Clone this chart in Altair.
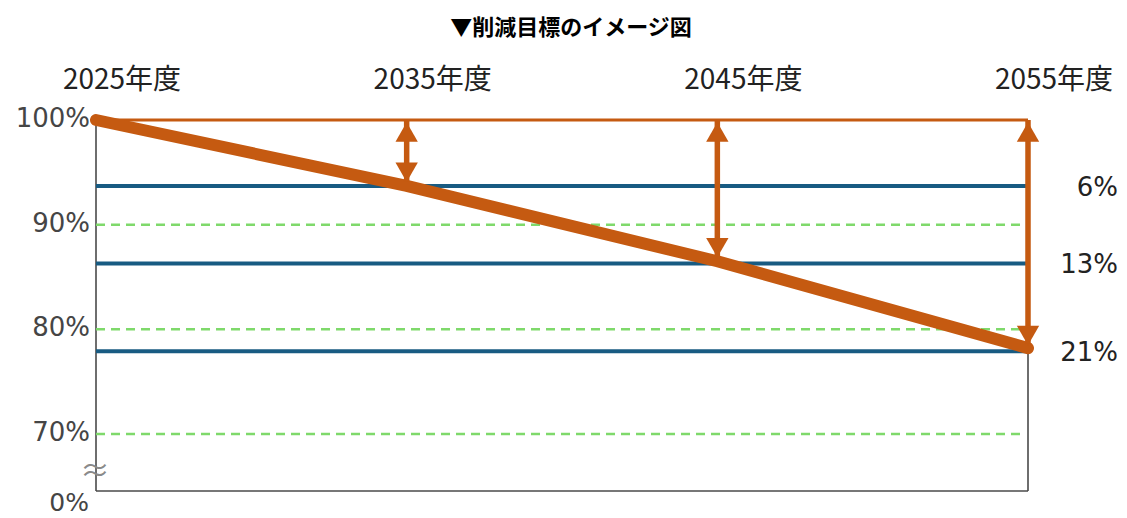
import altair as alt
import pandas as pd

# ---- data ----
years = [2025, 2035, 2045, 2055]
year_labels = ["2025年度", "2035年度", "2045年度", "2055年度"]

y_tick_values = [100, 90, 80, 70]
y_tick_labels = ["100%", "90%", "80%", "70%"]
Y_MIN = 64.55          # bottom of the broken axis (drawn as 0%)
break_label = "0%"

grid_values = [90, 80, 70]
target_levels = [93.7, 86.3, 77.9]
target_labels = ["6%", "13%", "21%"]

path_years = [2025, 2035, 2045, 2055]
path_values = [100, 93.7, 86.5, 78.2]

arrow_years = [2035, 2045, 2055]
arrow_tip_values = [94.1, 86.9, 78.5]

X0, X1 = years[0], years[-1]
TOP = 100

ORANGE = "#c55a11"
BLUE = "#185b82"
GREEN = "#7fd96b"
GRAY = "#4a4a4a"

xs = alt.Scale(domain=[X0, X1], nice=False, zero=False)
ys = alt.Scale(domain=[Y_MIN, TOP], nice=False, zero=False)
X = alt.X("year:Q", scale=xs, axis=None)
Y = alt.Y("value:Q", scale=ys, axis=None)

# frame
frame_v = pd.DataFrame({"year": [X0, X1], "value": [Y_MIN, Y_MIN], "value2": [TOP, TOP]})
frame_h = pd.DataFrame({"year": [X0], "year2": [X1], "value": [Y_MIN]})
frame_vert = alt.Chart(frame_v).mark_rule(color=GRAY, strokeWidth=1.6).encode(
    x=X, y=Y, y2=alt.Y2("value2:Q"))
frame_bot = alt.Chart(frame_h).mark_rule(color=GRAY, strokeWidth=1.6).encode(
    x=X, x2=alt.X2("year2:Q"), y=Y)

# green dashed grid
grid_df = pd.DataFrame({"year": [X0] * 3, "year2": [X1 - 0.15] * 3, "value": grid_values})
grid = alt.Chart(grid_df).mark_rule(color=GREEN, strokeWidth=2.5, strokeDash=[9, 6]).encode(
    x=X, x2=alt.X2("year2:Q"), y=Y)

# blue target lines
blue_df = pd.DataFrame({"year": [X0] * 3, "year2": [X1] * 3, "value": target_levels})
blue = alt.Chart(blue_df).mark_rule(color=BLUE, strokeWidth=4).encode(
    x=X, x2=alt.X2("year2:Q"), y=Y)

# orange top line
top_df = pd.DataFrame({"year": [X0], "year2": [X1], "value": [TOP]})
top_line = alt.Chart(top_df).mark_rule(color=ORANGE, strokeWidth=3).encode(
    x=X, x2=alt.X2("year2:Q"), y=Y)

# reduction path
path_df = pd.DataFrame({"year": path_years, "value": path_values})
path = alt.Chart(path_df).mark_line(color=ORANGE, strokeWidth=12, strokeCap="round",
                                    strokeJoin="round").encode(x=X, y=Y)

# arrows
arrow_df = pd.DataFrame({"year": arrow_years, "value": [TOP] * 3, "value2": arrow_tip_values})
shaft = alt.Chart(arrow_df).mark_rule(color=ORANGE, strokeWidth=5.5).encode(
    x=X, y=Y, y2=alt.Y2("value2:Q"))
head_up = alt.Chart(arrow_df).mark_point(
    shape="triangle-up", size=500, filled=True, opacity=1, color=ORANGE, yOffset=12).encode(
    x=X, y=Y)
tip_df = pd.DataFrame({"year": arrow_years, "value": arrow_tip_values})
head_down = alt.Chart(tip_df).mark_point(
    shape="triangle-down", size=500, filled=True, opacity=1, color=ORANGE, yOffset=-9.5).encode(
    x=X, y=Y)

# top year labels
yl_df = pd.DataFrame({"year": years, "value": [TOP] * 4, "label": year_labels})
year_text = alt.Chart(yl_df).mark_text(
    font="Noto Sans CJK JP", fontSize=28, color="#222222", dx=26, dy=-39, baseline="middle").encode(
    x=X, y=Y, text="label:N")

# y labels
ytick_df = pd.DataFrame({"year": [X0] * 4, "value": y_tick_values, "label": y_tick_labels})
ytick_text = alt.Chart(ytick_df).mark_text(
    font="DejaVu Sans", fontSize=26, color="#454545", align="right", baseline="middle", dx=-6, dy=-1).encode(
    x=X, y=Y, text="label:N")
zero_df = pd.DataFrame({"year": [X0], "value": [Y_MIN], "label": [break_label]})
zero_text = alt.Chart(zero_df).mark_text(
    font="DejaVu Sans", fontSize=25, color="#454545", align="right", baseline="middle", dx=-7, dy=12).encode(
    x=X, y=Y, text="label:N")
brk_df = pd.DataFrame({"year": [X0], "value": [Y_MIN], "label": ["≈"]})
brk_text = alt.Chart(brk_df).mark_text(
    font="Noto Sans CJK JP", fontSize=30, color="#8a8a8a", align="center", baseline="middle", dx=-1, dy=-19).encode(
    x=X, y=Y, text="label:N")

# right reduction labels
rl_df = pd.DataFrame({"year": [X1] * 3, "value": target_levels, "label": target_labels})
right_text = alt.Chart(rl_df).mark_text(
    font="DejaVu Sans", fontSize=26, color="#222222", align="right", baseline="middle", dx=90, dy=2).encode(
    x=X, y=Y, text="label:N")

chart = alt.layer(
    frame_vert, frame_bot, grid, blue, top_line, path, shaft, head_up, head_down,
    year_text, ytick_text, zero_text, brk_text, right_text,
).properties(
    width=932, height=371,
    title=alt.TitleParams("▼削減目標のイメージ図", anchor="middle", fontSize=22,
                          font="Noto Sans CJK JP", fontWeight="bold", color="#000000",
                          offset=27, dx=9),
    autosize=alt.AutoSizeParams(type="none"),
    padding={"left": 88, "top": 112, "right": 91, "bottom": 27},
).configure_view(stroke=None)

chart.save("out.html", embed_options={"renderer": "svg", "actions": False})
